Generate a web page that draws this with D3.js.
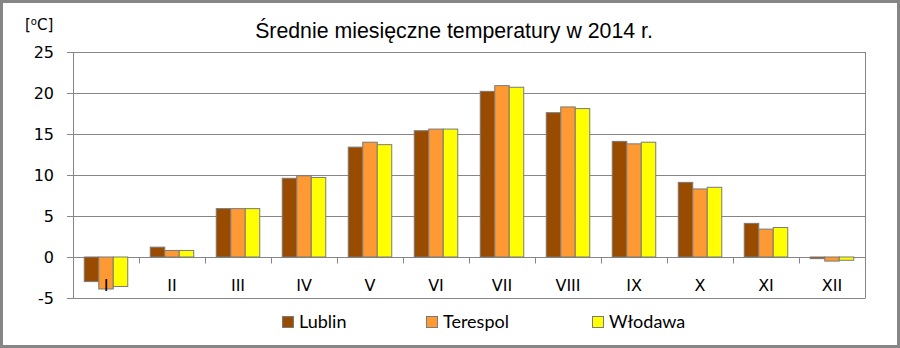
<!DOCTYPE html>
<html><head><meta charset="utf-8">
<script src="https://cdn.jsdelivr.net/npm/d3@7"></script>
<style>html,body{margin:0;padding:0;background:#fff;}svg{display:block;}</style>
</head><body>
<script>
const months = ["I","II","III","IV","V","VI","VII","VIII","IX","X","XI","XII"];
const seriesNames = ["Lublin","Terespol","Włodawa"];
const lublin   = [-3.0, 1.2, 5.9, 9.6, 13.4, 15.4, 20.2, 17.6, 14.1, 9.1, 4.1, -0.2];
const terespol = [-3.9, 0.8, 5.9, 9.9, 14.0, 15.6, 20.9, 18.3, 13.8, 8.3, 3.4, -0.5];
const wlodawa  = [-3.6, 0.8, 5.9, 9.7, 13.7, 15.6, 20.7, 18.1, 14.0, 8.5, 3.6, -0.4];
const yTicks = [-5, 0, 5, 10, 15, 20, 25];
const colors = ["#994C00", "#FF9933", "#FFFF00"];
const title = "Średnie miesięczne temperatury w 2014 r.";

const W = 900, H = 348;
const svg = d3.select("body").append("svg").attr("width", W).attr("height", H);
svg.append("rect").attr("x",1.5).attr("y",1.5).attr("width",W-3).attr("height",H-3)
  .attr("fill","#fff").attr("stroke","#868686").attr("stroke-width",3);

const L = 73, R = 865, T = 52, B = 298;
const x = d3.scaleBand().domain(months).range([L, R]).paddingInner(0).paddingOuter(0);
const y = d3.scaleLinear().domain([-5, 25]).range([B, T]);
const inner = d3.scaleBand().domain(seriesNames).range([0, x.bandwidth()]).paddingInner(0).paddingOuter(0.776);

// gridlines
svg.append("g").selectAll("line").data(yTicks).join("line")
  .attr("x1", L-6).attr("x2", R).attr("y1", d=>Math.round(y(d))+0.5).attr("y2", d=>Math.round(y(d))+0.5)
  .attr("stroke","#868686").attr("stroke-width",1);
// plot borders
svg.append("line").attr("x1",L+0.5).attr("x2",L+0.5).attr("y1",T).attr("y2",B).attr("stroke","#868686");
svg.append("line").attr("x1",R+0.5).attr("x2",R+0.5).attr("y1",T).attr("y2",B+0.5).attr("stroke","#868686");

// y labels
svg.append("g").selectAll("text").data(yTicks).join("text")
  .attr("x", 54).attr("y", d=>y(d)).attr("dy","0.36em").attr("text-anchor","end")
  .attr("font-family","DejaVu Sans").attr("font-size",16).attr("fill","#000").text(d=>d);

// unit label
const u = svg.append("text").attr("x",25).attr("y",30).attr("font-family","DejaVu Sans").attr("font-size",15).attr("fill","#000");
u.append("tspan").text("[");
u.append("tspan").attr("font-size",10).attr("dy",-5).text("o");
u.append("tspan").attr("dy",5).text("C]");

// bars
const data = [lublin, terespol, wlodawa];
seriesNames.forEach((s, si) => {
  svg.append("g").selectAll("rect").data(data[si]).join("rect")
    .attr("x", (d,i)=> x(months[i]) + inner(s))
    .attr("width", inner.bandwidth())
    .attr("y", d => y(Math.max(0,d)))
    .attr("height", d => Math.abs(y(d)-y(0)))
    .attr("fill", colors[si]).attr("stroke","#7a7a7a").attr("stroke-width",1);
});

// zero-line ticks
const y0 = Math.round(y(0))+0.5;
svg.append("g").selectAll("line").data(months.slice(1)).join("line")
  .attr("x1", d=>Math.round(x(d))+0.5).attr("x2", d=>Math.round(x(d))+0.5)
  .attr("y1", y0).attr("y2", y0+6).attr("stroke","#868686");

// x labels
svg.append("g").selectAll("text").data(months).join("text")
  .attr("x", d=>x(d)+x.bandwidth()/2).attr("y", 291).attr("text-anchor","middle")
  .attr("font-family","DejaVu Sans").attr("font-size",16).attr("fill","#000").text(d=>d);

// title
svg.append("text").attr("x",454).attr("y",38).attr("text-anchor","middle")
  .attr("font-family","Liberation Sans, Arial").attr("font-size",21.3).attr("fill","#000").text(title);

// legend
const legX = [282, 426, 592];
const lg = svg.append("g").selectAll("g").data(seriesNames).join("g")
  .attr("transform",(d,i)=>`translate(${legX[i]},0)`);
lg.append("rect").attr("x",0.5).attr("y",316.5).attr("width",11).attr("height",11)
  .attr("fill",(d,i)=>colors[i]).attr("stroke","#7a7a7a");
lg.append("text").attr("x",17).attr("y",328).attr("font-family","Lato").attr("font-size",18)
  .attr("fill","#000").text(d=>d);
</script>
</body></html>
